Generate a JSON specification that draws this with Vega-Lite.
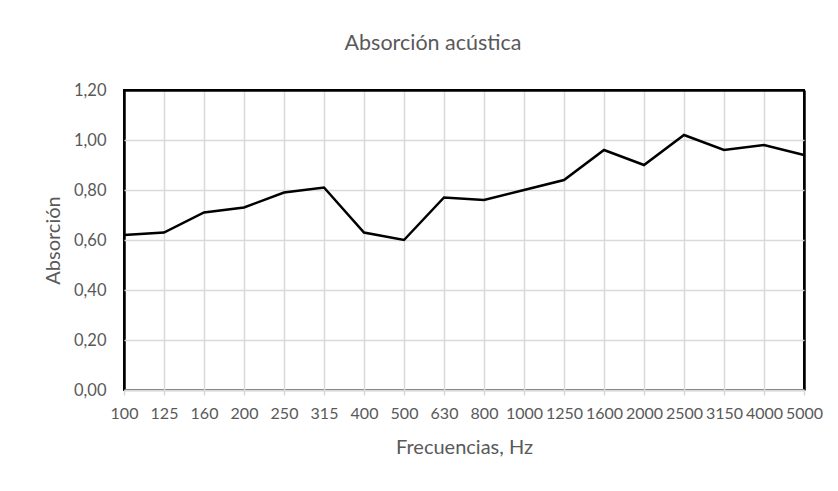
{
  "$schema": "https://vega.github.io/schema/vega-lite/v6.json",
  "width": 680,
  "height": 300,
  "autosize": {"type": "none"},
  "padding": {"left": 124, "top": 90, "right": 34, "bottom": 101},
  "background": "white",
  "title": {"text": "Absorción acústica", "fontSize": 21.5, "font": "Lato", "fontWeight": "normal", "color": "#595959", "offset": 28, "anchor": "middle", "frame": "bounds"},
  "data": {"values": [
    {"freq": "100", "abs": 0.62},
    {"freq": "125", "abs": 0.63},
    {"freq": "160", "abs": 0.71},
    {"freq": "200", "abs": 0.73},
    {"freq": "250", "abs": 0.79},
    {"freq": "315", "abs": 0.81},
    {"freq": "400", "abs": 0.63},
    {"freq": "500", "abs": 0.60},
    {"freq": "630", "abs": 0.77},
    {"freq": "800", "abs": 0.76},
    {"freq": "1000", "abs": 0.80},
    {"freq": "1250", "abs": 0.84},
    {"freq": "1600", "abs": 0.96},
    {"freq": "2000", "abs": 0.90},
    {"freq": "2500", "abs": 1.02},
    {"freq": "3150", "abs": 0.96},
    {"freq": "4000", "abs": 0.98},
    {"freq": "5000", "abs": 0.94}
  ]},
  "mark": {"type": "line", "color": "black", "strokeWidth": 2.5},
  "encoding": {
    "x": {
      "field": "freq", "type": "ordinal", "sort": null,
      "scale": {"type": "point", "padding": 0},
      "axis": {
        "title": "Frecuencias, Hz", "labelAngle": 0,
        "labelFont": "Lato", "labelFontSize": 16, "labelColor": "#595959",
        "titleFont": "Lato", "titleFontSize": 20, "titleFontWeight": "normal", "titleColor": "#595959",
        "titlePadding": 16, "labelPadding": 10,
        "domainColor": "#d9d9d9", "domainWidth": 2,
        "ticks": true, "tickColor": "#d9d9d9", "tickSize": 5, "tickWidth": 1.5,
        "grid": true,
        "gridColor": {"condition": {"test": "datum.value === '100' || datum.value === '5000'", "value": "black"}, "value": "#d9d9d9"},
        "gridWidth": {"condition": {"test": "datum.value === '100' || datum.value === '5000'", "value": 2.5}, "value": 1.5},
        "zindex": 0
      }
    },
    "y": {
      "field": "abs", "type": "quantitative",
      "scale": {"domain": [0, 1.2]},
      "axis": {
        "title": "Absorción",
        "values": [0, 0.2, 0.4, 0.6, 0.8, 1.0, 1.2],
        "labelExpr": "replace(format(datum.value, '.2f'), '.', ',')",
        "labelFont": "Lato", "labelFontSize": 16.5, "labelColor": "#595959",
        "titleFont": "Lato", "titleFontSize": 20, "titleFontWeight": "normal", "titleColor": "#595959",
        "titlePadding": 10, "labelPadding": 18,
        "domain": false, "ticks": false,
        "grid": true,
        "gridColor": {"condition": {"test": "datum.value >= 1.19", "value": "black"}, "value": "#d9d9d9"},
        "gridWidth": {"condition": {"test": "datum.value >= 1.19", "value": 2.5}, "value": 1.5}
      }
    }
  },
  "config": {"view": {"stroke": "black", "strokeWidth": 2}}
}
